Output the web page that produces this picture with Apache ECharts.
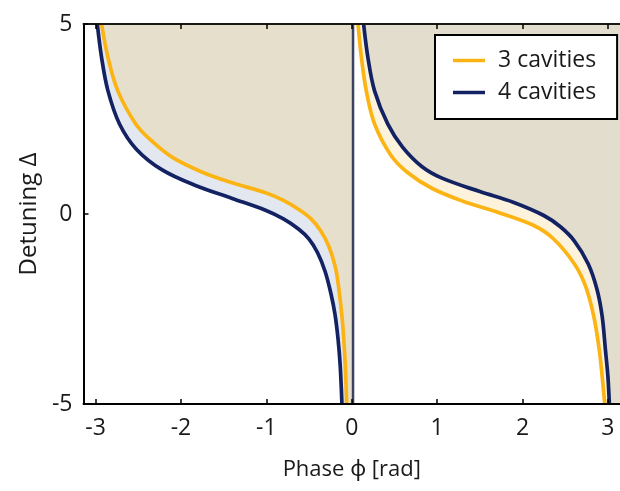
<!DOCTYPE html>
<html>
<head>
<meta charset="utf-8">
<script src="https://cdn.jsdelivr.net/npm/echarts@6/dist/echarts.min.js"></script>
<style>
  html, body { margin: 0; padding: 0; background: #ffffff; }
  #chart { width: 620px; height: 491px; }
</style>
</head>
<body>
<div id="chart"></div>
<script>
// Axis ticks
const phaseTicks = [-3, -2, -1, 0, 1, 2, 3];
const detuningRange = [-5, 5];

// Series names
const seriesNames = ['3 cavities', '4 cavities'];

// Phase branch below zero: [phase, detuning]
const leftThree = [
  [-2.93, 5.0], [-2.855, 4.12], [-2.74, 3.24], [-2.53, 2.37], [-2.357, 1.95],
  [-2.10, 1.49], [-1.75, 1.10], [-1.40, 0.82], [-1.01, 0.56], [-0.80, 0.36],
  [-0.62, 0.12], [-0.48, -0.12], [-0.37, -0.42], [-0.271, -0.837], [-0.194, -1.382],
  [-0.155, -1.90], [-0.11, -2.80], [-0.085, -3.60], [-0.07, -4.30], [-0.06, -5.0]
];
const leftFour = [
  [-2.98, 5.0], [-2.93, 4.12], [-2.855, 3.24], [-2.72, 2.37], [-2.52, 1.70],
  [-2.22, 1.16], [-1.83, 0.75], [-1.40, 0.41], [-1.01, 0.10], [-0.80, -0.13],
  [-0.62, -0.40], [-0.50, -0.66], [-0.40, -1.02], [-0.312, -1.513], [-0.244, -2.092],
  [-0.196, -2.645], [-0.16, -3.30], [-0.135, -4.00], [-0.115, -5.0]
];

// Phase branch above zero: [phase, detuning]
const rightThree = [
  [0.073, 5.0], [0.113, 4.12], [0.17, 3.24], [0.267, 2.37], [0.456, 1.553],
  [0.653, 1.092], [0.943, 0.671], [1.31, 0.33], [1.69, 0.06], [2.12, -0.289],
  [2.358, -0.645], [2.608, -1.316], [2.74, -1.91], [2.835, -2.70], [2.899, -3.579],
  [2.933, -4.28], [2.963, -5.0]
];
const rightFour = [
  [0.139, 5.0], [0.189, 4.12], [0.267, 3.24], [0.421, 2.37], [0.595, 1.76],
  [0.82, 1.25], [1.05, 0.95], [1.50, 0.59], [1.89, 0.31], [2.249, -0.039],
  [2.44, -0.329], [2.608, -0.711], [2.77, -1.316], [2.874, -2.00], [2.933, -2.70],
  [2.971, -3.58], [3.0, -4.28], [3.017, -5.0]
];

// Separator between the two branches
const dividerPhase = 0.015;
const divider = [[dividerPhase, -5], [dividerPhase, 5]];

const phaseMin = -Math.PI;
const phaseMax = Math.PI;

const colors = {
  three: '#fcb414',
  four: '#132263',
  beige: '#e6dfcc',
  beigeRight: '#e3ddcd',
  lavender: '#e3e7f0',
  cream: '#fdf2dc',
  divider: '#3b4161'
};

// Shaded regions between the curves
const regions = [
  { points: () => leftThree.concat([[dividerPhase, -5], [dividerPhase, 5]]), color: colors.beige },
  { points: () => leftFour.concat(leftThree.slice().reverse()), color: colors.lavender },
  { points: () => rightThree.concat(rightFour.slice().reverse()), color: colors.cream },
  { points: () => rightFour.concat([[phaseMax, -5], [phaseMax, 5]]), color: colors.beigeRight }
];

const font = '"Open Sans", "Noto Sans", sans-serif';
const chart = echarts.init(document.getElementById('chart'), null, { renderer: 'canvas' });

const curve = (name, data, color, z) => ({
  type: 'line', name: name, data: data, symbol: 'none', showSymbol: false,
  smooth: 0.35, z: z, color: color,
  lineStyle: { color: color, width: 3.7 }
});

chart.setOption({
  animation: false,
  backgroundColor: '#ffffff',
  textStyle: { fontFamily: font },
  grid: { left: 83.5, right: -5.5, top: 24, bottom: 87, containLabel: false },
  legend: {
    data: seriesNames,
    orient: 'vertical',
    left: 435,
    top: 35,
    selectedMode: false,
    icon: 'rect',
    backgroundColor: '#ffffff',
    borderColor: '#000000',
    borderWidth: 2,
    borderRadius: 0,
    padding: [14, 21, 15, 18],
    itemGap: 9,
    itemWidth: 32,
    itemHeight: 3.5,
    textStyle: { fontFamily: font, fontSize: 23, color: '#1a1a1a', padding: [0, 0, 0, 8] }
  },
  xAxis: [
    {
      type: 'value', min: phaseMin, max: phaseMax, position: 'bottom', z: 10,
      name: 'Phase \u03D5 [rad]', nameLocation: 'middle', nameGap: 55,
      nameTextStyle: { fontFamily: font, fontSize: 22, color: '#1a1a1a' },
      axisLine: { show: true, onZero: false, lineStyle: { color: '#000', width: 2 } },
      axisTick: { show: true, inside: true, length: 5, customValues: phaseTicks, lineStyle: { color: '#000', width: 1.5 } },
      axisLabel: { show: true, customValues: phaseTicks, margin: 13, fontFamily: font, fontSize: 23, color: '#1a1a1a' },
      splitLine: { show: false }
    },
    {
      type: 'value', min: phaseMin, max: phaseMax, position: 'top', z: 10,
      axisLine: { show: true, onZero: false, lineStyle: { color: '#1a1a14', width: 2 } },
      axisTick: { show: true, inside: true, length: 5, customValues: phaseTicks, lineStyle: { color: '#000', width: 1.5 } },
      axisLabel: { show: false },
      splitLine: { show: false }
    }
  ],
  yAxis: {
    type: 'value', min: detuningRange[0], max: detuningRange[1], interval: 5, z: 10,
    name: 'Detuning \u0394', nameLocation: 'middle', nameGap: 40, nameRotate: 90,
    nameTextStyle: { fontFamily: font, fontSize: 24, color: '#1a1a1a' },
    axisLine: { show: true, onZero: false, lineStyle: { color: '#000', width: 2 } },
    axisTick: { show: true, inside: true, length: 5, lineStyle: { color: '#000', width: 1.5 } },
    axisLabel: { show: true, margin: 11, fontFamily: font, fontSize: 23, color: '#1a1a1a' },
    splitLine: { show: false }
  },
  series: [
    {
      type: 'custom',
      name: 'regions',
      coordinateSystem: 'cartesian2d',
      clip: true,
      z: 1,
      silent: true,
      data: regions.map((r, i) => [0, 0, i]),
      encode: { x: 0, y: 1 },
      renderItem: function (params, api) {
        const region = regions[params.dataIndex];
        const pts = region.points().map(p => api.coord(p));
        return {
          type: 'polygon',
          shape: { points: pts },
          style: { fill: region.color, stroke: null }
        };
      }
    },
    {
      type: 'line',
      name: 'divider',
      data: divider,
      symbol: 'none',
      z: 3,
      silent: true,
      lineStyle: { color: colors.divider, width: 2.5 }
    },
    curve(seriesNames[0], leftThree, colors.three, 4),
    curve(seriesNames[0], rightThree, colors.three, 4),
    curve(seriesNames[1], leftFour, colors.four, 5),
    curve(seriesNames[1], rightFour, colors.four, 5)
  ]
});
</script>
</body>
</html>
